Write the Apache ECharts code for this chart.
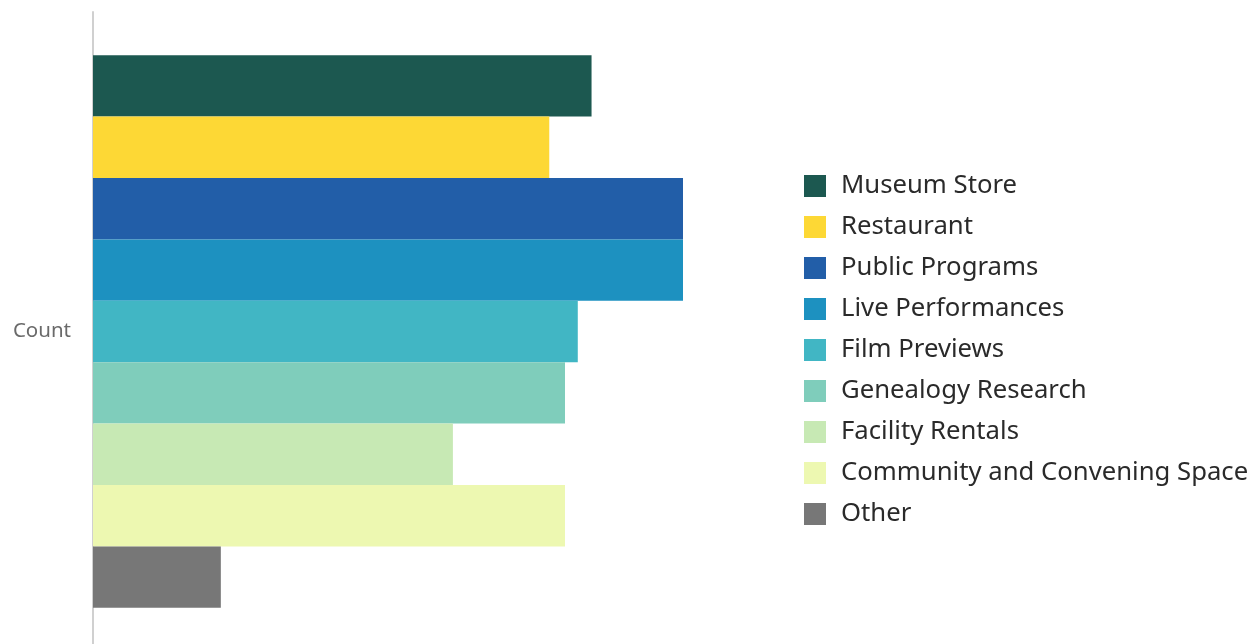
<!DOCTYPE html>
<html>
<head>
    <meta charset="UTF-8">
    <title>Count</title>
    <style>
        html,body{margin:0;padding:0;background:#fff;}
        #barChart{width:1255px;height:644px;}
    </style>
</head>
<body>
<div id="barChart"></div>
<script src="https://cdn.jsdelivr.net/npm/echarts@6/dist/echarts.min.js"></script>
<script>
    // data
    let categories = ['Count'];
    let seriesNames = ['Museum Store','Restaurant','Public Programs','Live Performances','Film Previews',
        'Genealogy Research','Facility Rentals','Community and Convening Space','Other'];
    let seriesValues = [50.7,46.4,60,60,49.3,48,36.6,48,13];
    let colors = ['#1c5850','#fdd835','#225ea8','#1d91c0','#41b6c4','#7fcdbb','#c7e9b4','#edf8b1','#777777'];
    let axisMax = 60;

    let myChart = echarts.init(document.getElementById('barChart'));

    let series = seriesNames.map(function (name, i) {
        return {
            name: name,
            type: 'bar',
            barGap: 0,
            barWidth: 61.4,
            itemStyle: {color: colors[i]},
            data: [seriesValues[i]]
        };
    });

    let option = {
        animation: false,
        legend: {
            orient: 'vertical',
            left: 804,
            top: 173,
            padding: 0,
            itemWidth: 22,
            itemHeight: 22,
            itemGap: 15,
            icon: 'rect',
            data: seriesNames,
            textStyle: {
                fontFamily: 'Noto Sans',
                fontSize: 25.7,
                lineHeight: 25,
                color: '#2a2a2a',
                padding: [0, 0, 0, 10]
            }
        },
        grid: {
            left: 93,
            top: 12,
            width: 590,
            height: 639,
            outerBoundsMode: 'none'
        },
        xAxis: {
            type: 'value',
            min: 0,
            max: axisMax,
            show: false
        },
        yAxis: {
            type: 'category',
            inverse: true,
            data: categories,
            axisTick: {show: false},
            axisLine: {
                show: true,
                lineStyle: {color: '#d0d0d0', width: 2}
            },
            axisLabel: {
                margin: 22,
                color: '#6a6a6a',
                fontFamily: 'Noto Sans',
                fontSize: 20.5
            },
            splitLine: {show: false}
        },
        series: series
    };
    myChart.setOption(option);
</script>
</body>
</html>
